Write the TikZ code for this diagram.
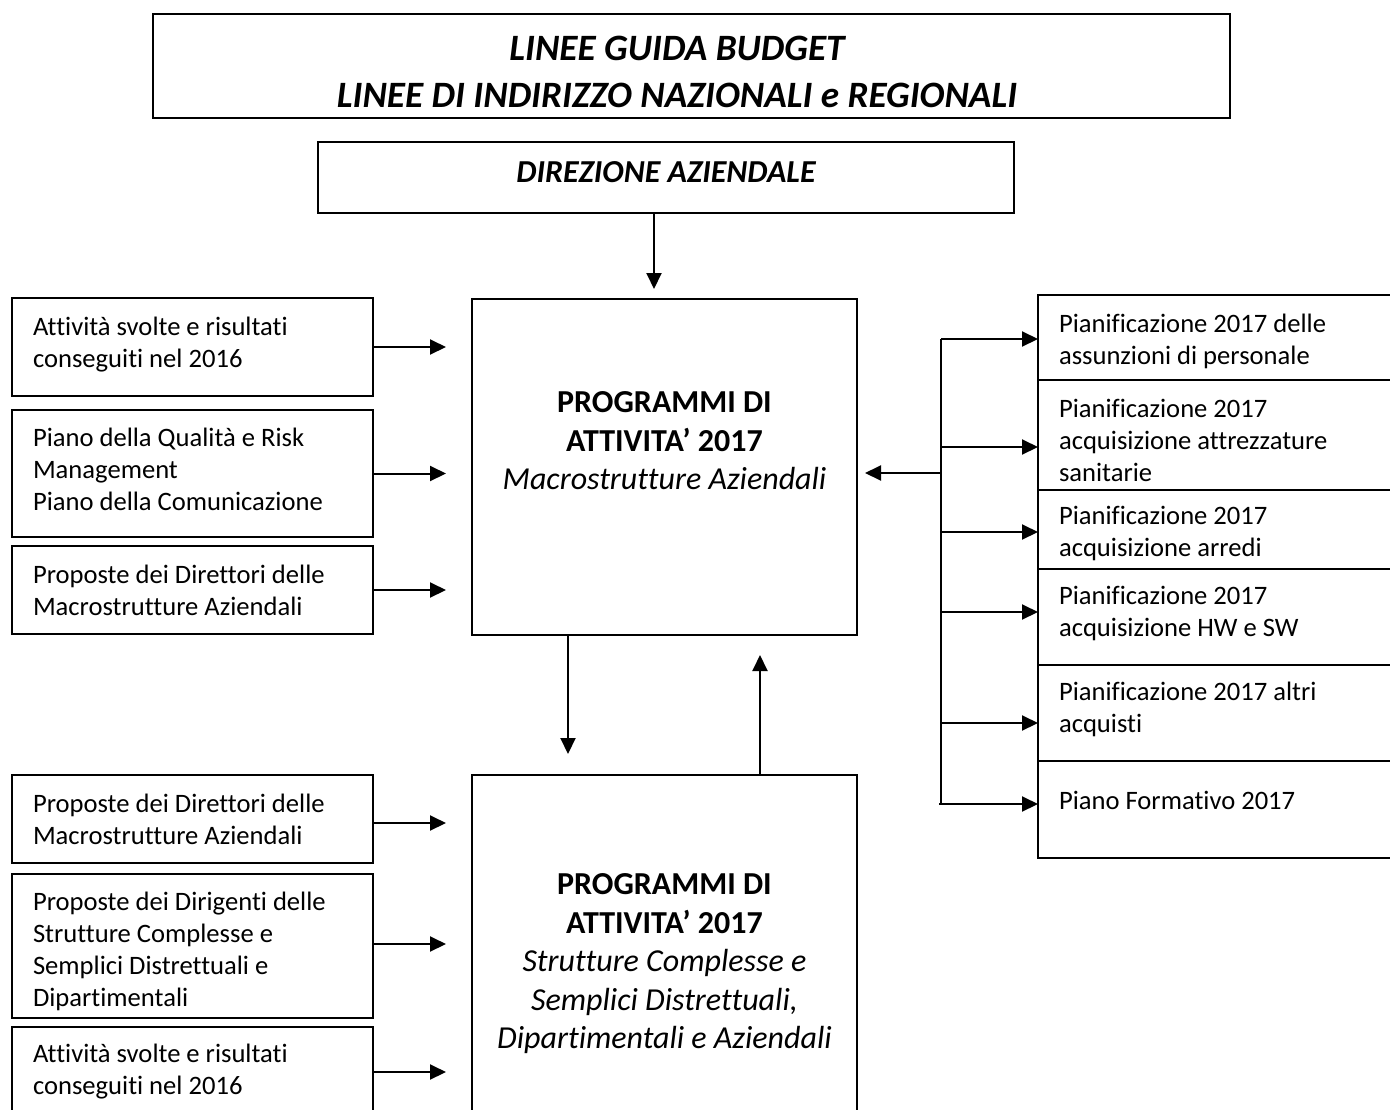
\documentclass[tikz,border=0pt]{standalone}
\usepackage{fontspec}
\setmainfont{Carlito}[Ligatures={NoCommon}]
\usetikzlibrary{arrows.meta}
\tikzset{
  box/.style={draw, line width=2pt, anchor=north west, inner sep=0pt, outer sep=0pt},
  arr/.style={line width=2pt, -{Triangle[length=16pt,width=15pt]}},
  plain/.style={line width=2pt},
  txt/.style={inner sep=0pt, outer sep=0pt, align=left, anchor=north west, font=\fontsize{26.6}{32}\selectfont},
  maintxt/.style={inner sep=0pt, outer sep=0pt, align=center, anchor=north, font=\fontsize{32}{38.5}\selectfont},
  toptxt/.style={inner sep=0pt, outer sep=0pt, align=center, anchor=north, font=\fontsize{37.2}{47}\selectfont\bfseries\itshape},
  dirtxt/.style={inner sep=0pt, outer sep=0pt, anchor=base, font=\fontsize{32}{38}\selectfont\bfseries\itshape},
}
\begin{document}
\begin{tikzpicture}[x=1pt,y=-1pt]
\useasboundingbox (0,0) rectangle (1390,1109);
\clip (0,0) rectangle (1390,1109);
\fill[white] (0,0) rectangle (1390,1109);

% top boxes
\node[box, minimum width=1077pt, minimum height=104pt] (T) at (153,14) {};
\node[toptxt] (tT) at (677,27.1) {\strut LINEE GUIDA BUDGET\\LINEE DI INDIRIZZO NAZIONALI e REGIONALI};
\node[box, minimum width=696pt, minimum height=71pt] (Dir) at (318,142) {};
\node[dirtxt] (tDir) at (666,182) {DIREZIONE AZIENDALE};

% main boxes
\node[box, minimum width=385pt, minimum height=336pt] (M1) at (472,299) {};
\node[maintxt] (tM1) at (664.5,386) {\strut\textbf{PROGRAMMI DI}\\\textbf{ATTIVITA’ 2017}\\\textit{Macrostrutture Aziendali}};
\node[box, minimum width=385pt, minimum height=345pt] (M2) at (472,775) {};
\node[maintxt] (tM2) at (664.5,868) {\strut\textbf{PROGRAMMI DI}\\\textbf{ATTIVITA’ 2017}\\\textit{Strutture Complesse e}\\\textit{Semplici Distrettuali,}\\\textit{Dipartimentali e Aziendali}};

% left boxes
\node[box, minimum width=361pt, minimum height=98pt] (A) at (12,298) {};
\node[txt] (tA) at (33,312.6) {\strut Attività svolte e risultati\\conseguiti nel 2016};
\node[box, minimum width=361pt, minimum height=127pt] (B) at (12,410) {};
\node[txt] (tB) at (33,423.6) {\strut Piano della Qualità e Risk\\Management\\Piano della Comunicazione};
\node[box, minimum width=361pt, minimum height=88pt] (C) at (12,546) {};
\node[txt] (tC) at (33,560.6) {\strut Proposte dei Direttori delle\\Macrostrutture Aziendali};
\node[box, minimum width=361pt, minimum height=88pt] (D) at (12,775) {};
\node[txt] (tD) at (33,789.6) {\strut Proposte dei Direttori delle\\Macrostrutture Aziendali};
\node[box, minimum width=361pt, minimum height=144pt] (E) at (12,874) {};
\node[txt] (tE) at (33,887.6) {\strut Proposte dei Dirigenti delle\\Strutture Complesse e\\Semplici Distrettuali e\\Dipartimentali};
\node[box, minimum width=361pt, minimum height=90pt] (F) at (12,1027) {};
\node[txt] (tF) at (33,1039.6) {\strut Attività svolte e risultati\\conseguiti nel 2016};

% right boxes
\node[box, minimum width=400pt, minimum height=85pt] (R1) at (1038,295) {};
\node[txt] (tR1) at (1059,309.6) {\strut Pianificazione 2017 delle\\assunzioni di personale};
\node[box, minimum width=400pt, minimum height=110pt] (R2) at (1038,380) {};
\node[txt] (tR2) at (1059,394.6) {\strut Pianificazione 2017\\acquisizione attrezzature\\sanitarie};
\node[box, minimum width=400pt, minimum height=79pt] (R3) at (1038,490) {};
\node[txt] (tR3) at (1059,501.6) {\strut Pianificazione 2017\\acquisizione arredi};
\node[box, minimum width=400pt, minimum height=96pt] (R4) at (1038,569) {};
\node[txt] (tR4) at (1059,581.6) {\strut Pianificazione 2017\\acquisizione HW e SW};
\node[box, minimum width=400pt, minimum height=96pt] (R5) at (1038,665) {};
\node[txt] (tR5) at (1059,677.6) {\strut Pianificazione 2017 altri\\acquisti};
\node[box, minimum width=400pt, minimum height=97pt] (R6) at (1038,761) {};
\node[txt] (tR6) at (1059,786.6) {\strut Piano Formativo 2017};

% vertical connectors
\coordinate (d0) at (654,213);
\draw[arr, shorten >=10pt] (d0) -- (d0 |- M1.north);
\coordinate (m0) at (568,635);
\draw[arr, shorten >=21pt] (m0) -- (m0 |- M2.north);
\coordinate (m1) at (760,775);
\draw[arr, shorten >=20pt] (m1) -- (m1 |- M1.south);

% left arrows
\draw[arr, shorten >=26pt] (A.east) -- (A.east -| M1.west);
\draw[arr, shorten >=26pt] (B.east) -- (B.east -| M1.west);
\draw[arr, shorten >=26pt] (C.east) -- (C.east -| M1.west);
\draw[arr, shorten >=26pt] ([yshift=-4pt]D.east) -- ([yshift=-4pt]D.east -| M2.west);
\draw[arr, shorten >=26pt] ([yshift=2pt]E.east) -- ([yshift=2pt]E.east -| M2.west);
\draw[arr, shorten >=26pt] (F.east) -- (F.east -| M2.west);

% right trunk
\coordinate (t1) at (941,339);
\coordinate (t2) at (941,447);
\coordinate (t3) at (941,532);
\coordinate (t4) at (941,612);
\coordinate (t5) at (941,723);
\coordinate (t6) at (941,804);
\coordinate (tm) at (941,473);
\draw[plain] (t1) -- (t6) -- ++(-2,0);
\draw[arr] (t1) -- (t1 -| R1.west);
\draw[arr] (t2) -- (t2 -| R2.west);
\draw[arr] (t3) -- (t3 -| R3.west);
\draw[arr] (t4) -- (t4 -| R4.west);
\draw[arr] (t5) -- (t5 -| R5.west);
\draw[arr] (t6) -- (t6 -| R6.west);
\draw[arr, shorten >=8pt] (tm) -- (tm -| M1.east);
\end{tikzpicture}
\end{document}
